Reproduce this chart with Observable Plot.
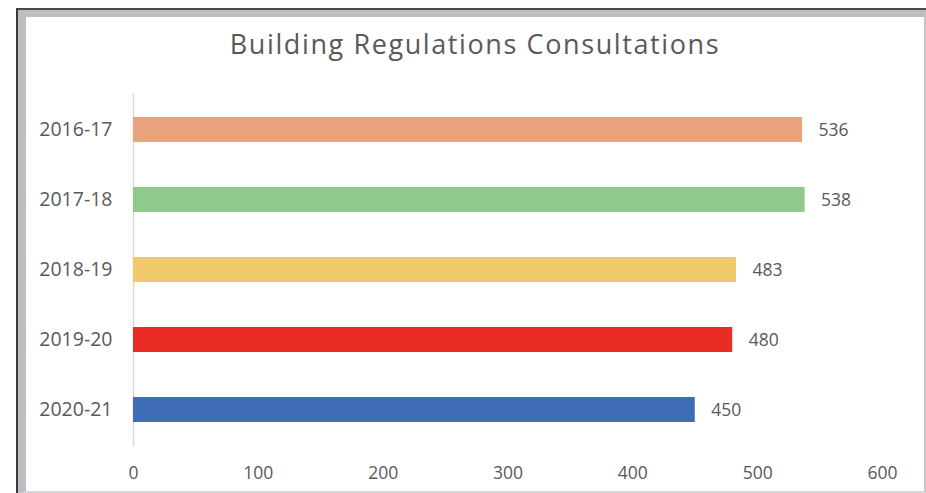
<!DOCTYPE html>
<html>
<head>
<meta charset="utf-8">
<script src="https://cdn.jsdelivr.net/npm/d3@7"></script>
<script src="https://cdn.jsdelivr.net/npm/@observablehq/plot@0.6"></script>
<style>
  html, body { margin: 0; padding: 0; background: #ffffff; }
  #wrap { position: relative; width: 926px; height: 493px; overflow: hidden; }
  #frameOuter { position: absolute; left: 16px; top: 8px; width: 910px; height: 485px;
    box-sizing: border-box; border-left: 2px solid #3a3a3a; border-top: 2px solid #4a4a4a; }
  #frameInner { position: absolute; left: 0; top: 0; right: 0; bottom: 0; box-sizing: border-box;
    border-left: 8px solid #bdbec2; border-top: 7px solid #bdbec2;
    border-right: 2px solid #c4c5c8; border-bottom: 2px solid #d4d5d8; background: #ffffff; }
  #title { position: absolute; left: 26px; width: 898px; top: 25px; text-align: center;
    font-family: "Open Sans", sans-serif; font-size: 27px; color: #595959; letter-spacing: 1.6px; }
  #chart { position: absolute; left: 0; top: 0; }
</style>
</head>
<body>
<div id="wrap">
  <div id="frameOuter"><div id="frameInner"></div></div>
  <div id="title">Building Regulations Consultations</div>
  <div id="chart"></div>
</div>
<script>
const years = ["2016-17", "2017-18", "2018-19", "2019-20", "2020-21"];
const counts = [536, 538, 483, 480, 450];
const colors = ["#e8a27c", "#8fc98b", "#f1cb6b", "#e82b25", "#3e6db5"];
const xTicks = [0, 100, 200, 300, 400, 500, 600];

const data = years.map((y, i) => ({year: y, count: counts[i], color: colors[i]}));

const chart = Plot.plot({
  width: 926,
  height: 493,
  marginLeft: 133,
  marginRight: 44,
  marginTop: 93,
  marginBottom: 47,
  style: {background: "transparent", fontFamily: "'Open Sans', sans-serif", fontSize: "17px", color: "#595959"},
  x: {domain: [0, 600], label: null},
  y: {domain: years, label: null, paddingInner: 0.645, paddingOuter: 0.3225},
  color: {domain: years, range: colors},
  marks: [
    Plot.axisX({ticks: xTicks, tickSize: 0, tickPadding: 20, tickFormat: d => String(d), fontSize: 17.5, label: null, fill: "#595959"}),
    Plot.axisY({tickSize: 0, tickPadding: 21, fontSize: 19.5, label: null, fill: "#595959"}),
    Plot.ruleX([0], {stroke: "#d9d9d9", strokeWidth: 1.5}),
    Plot.barX(data, {x: "count", y: "year", fill: "year"}),
    Plot.text(data, {x: "count", y: "year", text: d => String(d.count), textAnchor: "start", dx: 16, fill: "#595959", fontSize: 17.5})
  ]
});
document.getElementById("chart").appendChild(chart);
</script>
</body>
</html>
